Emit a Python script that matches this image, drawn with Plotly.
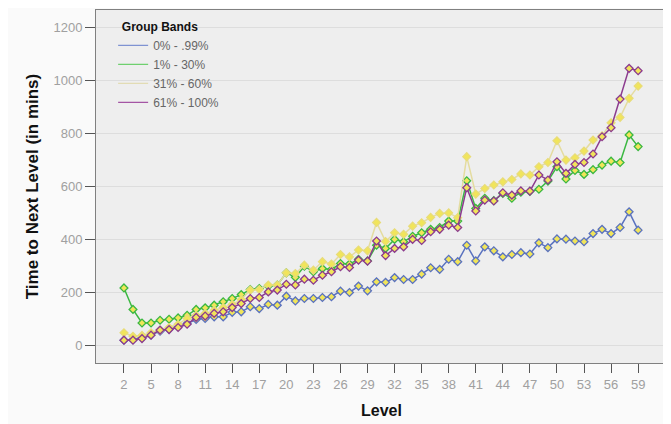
import plotly.graph_objects as go

levels = list(range(2, 60))
level_ticks = [2, 5, 8, 11, 14, 17, 20, 23, 26, 29, 32, 35, 38, 41, 44, 47, 50, 53, 56, 59]
value_ticks = [0, 200, 400, 600, 800, 1000, 1200]

band_names = ["0% - .99%", "1% - 30%", "31% - 60%", "61% - 100%"]

blue = [20, 22, 29, 39, 54, 61, 73, 83, 98, 102, 108, 108, 125, 127, 146,
        139, 155, 152, 186, 168, 177, 177, 181, 184, 205, 200, 224, 206, 240,
        238, 256, 249, 249, 269, 293, 287, 325, 316, 378, 319, 372, 357, 334,
        343, 350, 345, 387, 369, 402, 401, 394, 391, 422, 438, 422, 445, 504, 435]

green = [217, 136, 85, 85, 95, 99, 104, 114, 136, 142, 152, 165, 177, 192, 211,
         215, 224, 228, 274, 257, 299, 278, 290, 287, 309, 307, 325, 319, 378,
         366, 400, 391, 412, 425, 438, 445, 469, 469, 621, 517, 555, 546, 573,
         555, 578, 581, 589, 620, 674, 628, 660, 645, 663, 680, 695, 690, 794, 750]

yellow = [48, 35, 38, 48, 58, 68, 80, 102, 114, 121, 133, 143, 155, 173, 209,
          211, 228, 228, 274, 271, 303, 284, 316, 307, 343, 334, 360, 357, 464,
          392, 425, 419, 450, 463, 483, 498, 500, 482, 712, 571, 592, 605, 617,
          626, 647, 643, 674, 690, 772, 699, 708, 733, 775, 791, 840, 860, 932, 978]

purple = [20, 20, 26, 39, 58, 60, 68, 80, 106, 111, 121, 127, 143, 158, 177,
          181, 202, 209, 231, 228, 250, 246, 265, 278, 297, 294, 322, 318, 394,
          339, 366, 372, 400, 396, 429, 438, 454, 445, 595, 507, 548, 545, 576,
          567, 583, 582, 643, 624, 693, 649, 683, 690, 722, 787, 821, 929, 1045, 1036]

series = [blue, green, yellow, purple]
line_colors = ["#5a72bf", "#3bb842", "#e4dca0", "#8c3b8e"]
legend_colors = ["#7f93d2", "#6fd06f", "#e2dcb4", "#a455a4"]
edge_colors = ["#5a72bf", "#3bb842", "#e8dc78", "#8c3b8e"]
marker_fill = "#f1e55a"

fig = go.Figure()
for name, vals, lc, lgc, ec in zip(band_names, series, line_colors, legend_colors, edge_colors):
    fig.add_trace(go.Scatter(
        x=levels, y=vals, mode="lines", name=name,
        line=dict(color=lc, width=1.5), showlegend=False, hoverinfo="skip"))
    fig.add_trace(go.Scatter(
        x=levels, y=vals, mode="markers", name=name, showlegend=False,
        marker=dict(symbol="diamond", size=6, color=marker_fill,
                    line=dict(color=ec, width=1.3))))
    fig.add_trace(go.Scatter(
        x=[None], y=[None], mode="lines", name=name,
        line=dict(color=lgc, width=1.2), showlegend=True))

# the page has an 8px body margin; size the figure so it fits the 671x424 window
fig.update_layout(
    width=663, height=416,
    margin=dict(l=88, r=4, t=2, b=61),
    paper_bgcolor="#fafafa",
    plot_bgcolor="#eeeeee",
    font=dict(family="Liberation Sans, Arial, sans-serif", size=13, color="#999999"),
    showlegend=True,
    legend=dict(
        x=0.03, y=0.985, xanchor="left", yanchor="top",
        bgcolor="rgba(0,0,0,0)",
        title=dict(text="<b>  Group Bands</b>", font=dict(size=12, color="#111111")),
        font=dict(size=12, color="#666666"),
        itemwidth=30, tracegroupgap=0,
    ),
)

fig.update_xaxes(
    range=[-1.1, 62.2], automargin=False,
    tickmode="array", tickvals=level_ticks, ticktext=[str(t) for t in level_ticks],
    ticks="outside", ticklen=9, tickcolor="#555555", tickwidth=1,
    showgrid=False, zeroline=False,
    showline=True, linecolor="#808080", linewidth=1, mirror=True,
    tickfont=dict(size=13, color="#a0a0a0"),
    title=dict(text="<b>Level</b>", font=dict(size=16, color="#111111"), standoff=14),
)
fig.update_yaxes(
    range=[-66, 1265], automargin=False,
    tickmode="array", tickvals=value_ticks, ticktext=[str(t) for t in value_ticks],
    ticks="outside", ticklen=10, tickcolor="#555555", tickwidth=1,
    showgrid=True, gridcolor="#dddddd", gridwidth=1, zeroline=False,
    showline=True, linecolor="#808080", linewidth=1, mirror=True,
    tickfont=dict(size=13, color="#a0a0a0"),
    title=dict(text="<b>Time to Next Level (in mins)</b>", font=dict(size=17, color="#111111"), standoff=10),
)

fig.write_html("out.html")
